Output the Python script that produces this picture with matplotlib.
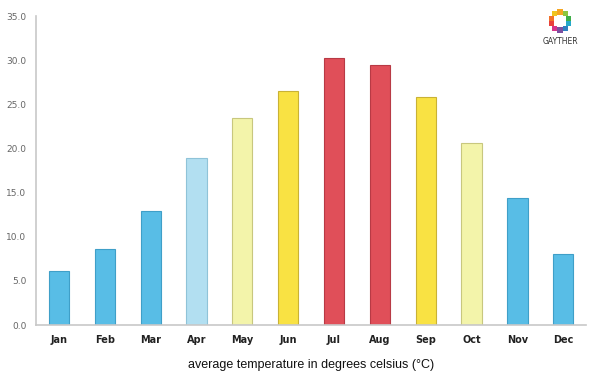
import matplotlib
matplotlib.use('Agg')
import matplotlib.pyplot as plt
import numpy as np

# data
months = ['Jan', 'Feb', 'Mar', 'Apr', 'May', 'Jun',
          'Jul', 'Aug', 'Sep', 'Oct', 'Nov', 'Dec']
temps = [6.1, 8.6, 12.9, 18.9, 23.5, 26.5, 30.2, 29.5, 25.8, 20.6, 14.4, 8.1]
colors = ['#58bde6', '#58bde6', '#58bde6', '#b2dff1', '#f3f4aa', '#f9e243',
          '#e04f59', '#e04f59', '#f9e243', '#f3f4aa', '#58bde6', '#58bde6']
edges = ['#3f9fc8', '#3f9fc8', '#3f9fc8', '#8fc3d8', '#c8c77e', '#c9b235',
         '#b83a45', '#b83a45', '#c9b235', '#c8c77e', '#3f9fc8', '#3f9fc8']
yticks = [0, 5, 10, 15, 20, 25, 30, 35]

fig = plt.figure(figsize=(6, 3.75), dpi=100, facecolor='white')
ax = fig.add_axes([0.06, 0.1333, 0.917, 0.824])

x = np.arange(len(months))
ax.bar(x, temps, width=0.44, color=colors, edgecolor=edges, linewidth=0.8, zorder=2)

ax.set_xlim(-0.5, len(months) - 0.5)
ax.set_ylim(0, 35)
ax.set_yticks(yticks)
ax.set_yticklabels(['{:.1f}'.format(v) for v in yticks], fontsize=6.5, color='#666666')
ax.set_xticks(x)
ax.set_xticklabels(months, fontsize=7, color='#222222', fontweight='semibold')
ax.tick_params(length=0, pad=7)

for side in ['top', 'right']:
    ax.spines[side].set_visible(False)
for side in ['left', 'bottom']:
    ax.spines[side].set_color('#c8c8c8')
    ax.spines[side].set_linewidth(1.2)

ax.set_xlabel('average temperature in degrees celsius (°C)', fontsize=9,
              family='Liberation Sans', color='#111111', labelpad=10)

# logo: ring of coloured dots, drawn in its own small square axes
logo_cols = ['#f5a623', '#8dc63f', '#3fae49', '#25a9c9', '#2d7fc1', '#7b4fa0',
             '#d6338a', '#e8413c', '#f2712b', '#f0c420']
lax = fig.add_axes([540 / 600, 1 - 41 / 375, 40 / 600, 40 / 375])
lax.set_xlim(-1, 1)
lax.set_ylim(-1, 1)
lax.axis('off')
ang = np.pi / 2 - 2 * np.pi * np.arange(len(logo_cols)) / len(logo_cols)
lax.scatter(np.cos(ang) * 0.45, np.sin(ang) * 0.45, s=14, c=logo_cols, marker='s', linewidths=0)
fig.text(560 / 600, 1 - 41 / 375, 'GAYTHER', fontsize=5.5, ha='center', va='center', color='#333333')

plt.savefig('out.png', dpi=100)
